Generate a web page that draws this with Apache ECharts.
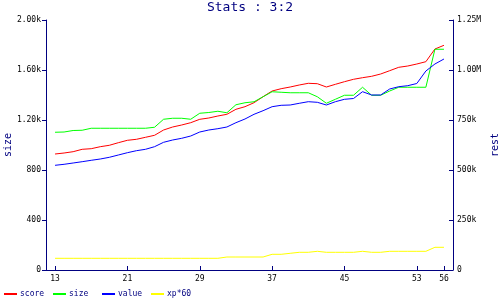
<!DOCTYPE html>
<html><head><meta charset="utf-8">
<script src="https://cdn.jsdelivr.net/npm/echarts@6/dist/echarts.min.js"></script>
<style>html,body{margin:0;padding:0;background:#fff}#c{width:500px;height:300px}</style>
</head><body><div id="c"></div>
<script>
const xs = [13,14,15,16,17,18,19,20,21,22,23,24,25,26,27,28,29,30,31,32,33,34,35,36,37,38,39,40,41,42,43,44,45,46,47,48,49,50,51,52,53,54,55,56];
// left axis (size)
const size = [1102,1104,1116,1118,1134,1134,1134,1134,1134,1134,1134,1142,1206,1214,1214,1206,1254,1260,1270,1258,1322,1338,1346,1386,1426,1422,1418,1418,1418,1386,1334,1366,1398,1398,1462,1398,1398,1432,1462,1462,1462,1462,1766,1766];
// right axis (rest)
const score = [580000,585000,591500,603500,606500,616500,623500,636500,648500,653500,663500,673500,700000,715000,725000,736500,753500,760000,770000,778500,803500,816500,836500,866500,895000,906500,915000,925000,933500,931500,915000,928500,941500,953500,961500,968500,980000,996500,1013500,1020000,1030000,1041500,1105000,1123500];
const value = [523500,528500,535000,541500,548500,555000,563500,575000,586500,596500,603500,616500,638500,650000,658500,670000,690000,700000,706500,715000,736500,755000,778500,796500,816500,823500,825000,833500,841500,838500,825000,841500,853500,857500,891500,875000,875000,905000,916500,921500,932500,995000,1030000,1055000];
const xp60 = [58500,58500,58500,58500,58500,58500,58500,58500,58500,58500,58500,58500,58500,58500,58500,58500,58500,58500,58500,65000,65000,65000,65000,65000,78500,78500,83500,88500,88500,93500,88500,88500,88500,88500,93500,88500,88500,93500,93500,93500,93500,93500,113500,113500];
const xTicks = [13,21,29,37,45,53,56];
const leftTicks = [0,400,800,1200,1600,2000];
const leftLabels = ["0","400","800","1.20k","1.60k","2.00k"];
const rightTicks = [0,250000,500000,750000,1000000,1250000];
const rightLabels = ["0","250k","500k","750k","1.00M","1.25M"];

const NAVY = '#000080';
const FONT = 'DejaVu Sans Mono';
const pair = arr => xs.map((x, i) => [x, arr[i]]);
const lab = (ticks, labels) => v => { const i = ticks.indexOf(v); return i >= 0 ? labels[i] : ''; };

const chart = echarts.init(document.getElementById('c'), null, {renderer: 'canvas'});
const legendItem = (name, left) => ({
  data: [name], left: left, top: 290, icon: 'rect', itemWidth: 13, itemHeight: 2,
  itemGap: 0, padding: 0, textStyle: {color: NAVY, fontSize: 8, fontFamily: FONT, padding: [0,0,0,-2]}
});
chart.setOption({
  animation: false,
  backgroundColor: '#fff',
  title: {text: 'Stats : 3:2', left: 'center', top: 1, padding: 0,
    textStyle: {color: NAVY, fontSize: 13, fontWeight: 'normal', fontFamily: FONT}},
  legend: [legendItem('score', 4), legendItem('size', 53), legendItem('value', 102), legendItem('xp*60', 151)],
  grid: {left: 46, right: 47, top: 20, bottom: 30, containLabel: false, outerBoundsMode: 'none'},
  xAxis: {
    type: 'value', min: 12, max: 57,
    axisLine: {lineStyle: {color: NAVY, width: 1}},
    axisTick: {show: true, inside: true, length: 4, customValues: xTicks, lineStyle: {color: NAVY}},
    axisLabel: {customValues: xTicks, color: '#000', fontSize: 8, fontFamily: FONT, margin: 5},
    splitLine: {show: false}
  },
  yAxis: [{
    type: 'value', min: 0, max: 2000, interval: 400, position: 'left',
    name: 'size', nameLocation: 'middle', nameGap: 33, nameRotate: 90, nameMoveOverlap: false,
    nameTextStyle: {color: NAVY, fontSize: 10, fontFamily: FONT},
    axisLine: {show: true, lineStyle: {color: NAVY, width: 1}},
    axisTick: {show: true, inside: false, length: 4, lineStyle: {color: NAVY}},
    axisLabel: {formatter: lab(leftTicks, leftLabels), color: '#000', fontSize: 8, fontFamily: FONT, margin: 5},
    splitLine: {show: false}
  }, {
    type: 'value', min: 0, max: 1250000, interval: 250000, position: 'right',
    name: 'rest', nameLocation: 'middle', nameGap: 37, nameRotate: 90, nameMoveOverlap: false,
    nameTextStyle: {color: NAVY, fontSize: 10, fontFamily: FONT},
    axisLine: {show: true, lineStyle: {color: NAVY, width: 1}},
    axisTick: {show: true, inside: true, length: 4, lineStyle: {color: NAVY}},
    axisLabel: {formatter: lab(rightTicks, rightLabels), color: '#000', fontSize: 8, fontFamily: FONT, margin: 4},
    splitLine: {show: false}
  }],
  series: [
    {name: 'score', type: 'line', yAxisIndex: 1, data: pair(score), showSymbol: false, color: '#ff0000', lineStyle: {width: 1}},
    {name: 'size', type: 'line', yAxisIndex: 0, data: pair(size), showSymbol: false, color: '#00ff00', lineStyle: {width: 1}},
    {name: 'value', type: 'line', yAxisIndex: 1, data: pair(value), showSymbol: false, color: '#0000ff', lineStyle: {width: 1}},
    {name: 'xp*60', type: 'line', yAxisIndex: 1, data: pair(xp60), showSymbol: false, color: '#ffff00', lineStyle: {width: 1}}
  ]
});
</script></body></html>
